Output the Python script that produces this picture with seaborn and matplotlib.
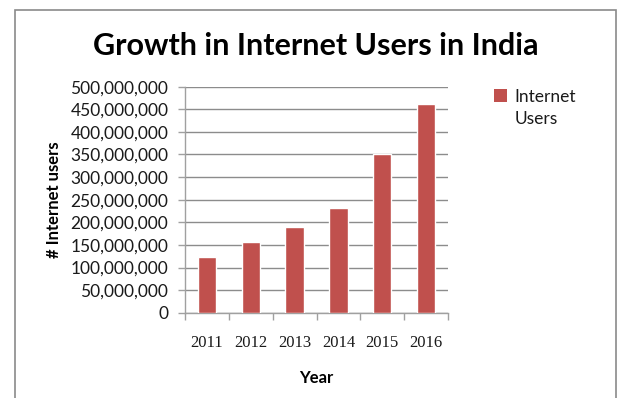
import matplotlib
matplotlib.use("Agg")
import matplotlib.pyplot as plt
import seaborn as sns
import pandas as pd
from matplotlib.patches import Rectangle, Patch
from matplotlib.ticker import FuncFormatter, MultipleLocator

years = ["2011", "2012", "2013", "2014", "2015", "2016"]
users = [124000000, 157000000, 190000000, 231000000, 352000000, 461000000]
series_name = "Internet Users"

df = pd.DataFrame({"Year": years, "Users": users})

sns.set_theme(style="white")
plt.rcParams["font.family"] = ["Lato", "DejaVu Sans"]
plt.rcParams["text.color"] = "black"

BAR = "#C0504D"
W, H = 617, 398
fig = plt.figure(figsize=(W / 100, H / 100), dpi=100)
ax = fig.add_axes([185 / W, 1 - 312.7 / H, (448 - 185) / W, (312.7 - 86.7) / H])

sns.barplot(data=df, x="Year", y="Users", color=BAR, width=0.42,
            saturation=1, ax=ax, zorder=3)

ax.set_ylim(0, 500000000)
ax.yaxis.set_major_locator(MultipleLocator(50000000))
ax.yaxis.set_major_formatter(FuncFormatter(lambda v, p: f"{int(v):,}"))
ax.grid(axis="y", color="#8c8c8c", linewidth=1, zorder=0)
ax.set_xlim(-0.5, 5.5)

for s in ["top", "right"]:
    ax.spines[s].set_visible(False)
for s in ["left", "bottom"]:
    ax.spines[s].set_color("#a0a0a0")
    ax.spines[s].set_linewidth(1)

ax.tick_params(axis="y", which="major", left=True, length=5, width=1, color="#a0a0a0",
               labelsize=12.5, pad=7, labelcolor="#1a1a1a")
ax.set_xticks(range(len(years)))
ax.set_xticklabels(years, fontfamily="Liberation Serif", fontsize=12, color="#1a1a1a")
ax.xaxis.set_minor_locator(plt.FixedLocator([i + 0.5 for i in range(-1, 6)]))
ax.tick_params(axis="x", which="major", bottom=False, pad=10)
ax.tick_params(axis="x", which="minor", bottom=True, length=5, width=1, color="#a0a0a0")

ax.set_xlabel("Year", fontsize=12, fontweight="bold", labelpad=14, color="black")
ax.set_ylabel("# Internet users", fontsize=12, fontweight="bold", labelpad=6, color="black")

fig.text(316 / W, 1 - 46 / H, "Growth in Internet Users in India", fontsize=22,
         fontweight="bold", ha="center", va="center", color="black")

fig.patches.append(Rectangle((14.5 / W, -0.05), (615.5 - 14.5) / W, 1.05 - 10 / H,
                             transform=fig.transFigure, fill=False,
                             edgecolor="#8a8a8a", linewidth=1.2))

name_lines = series_name.split(" ")
handles = [Patch(facecolor=BAR, edgecolor="none"),
           Patch(facecolor="none", edgecolor="none")]
leg = ax.legend(handles=handles, labels=name_lines, loc="upper left",
                bbox_to_anchor=(478 / W, 1 - 73 / H),
                bbox_transform=fig.transFigure, frameon=False, fontsize=12.5,
                handlelength=0.75, handleheight=0.75, handletextpad=0.45,
                labelspacing=0.35)
for t in leg.get_texts():
    t.set_color("#1a1a1a")

fig.savefig("out.png", dpi=100)
